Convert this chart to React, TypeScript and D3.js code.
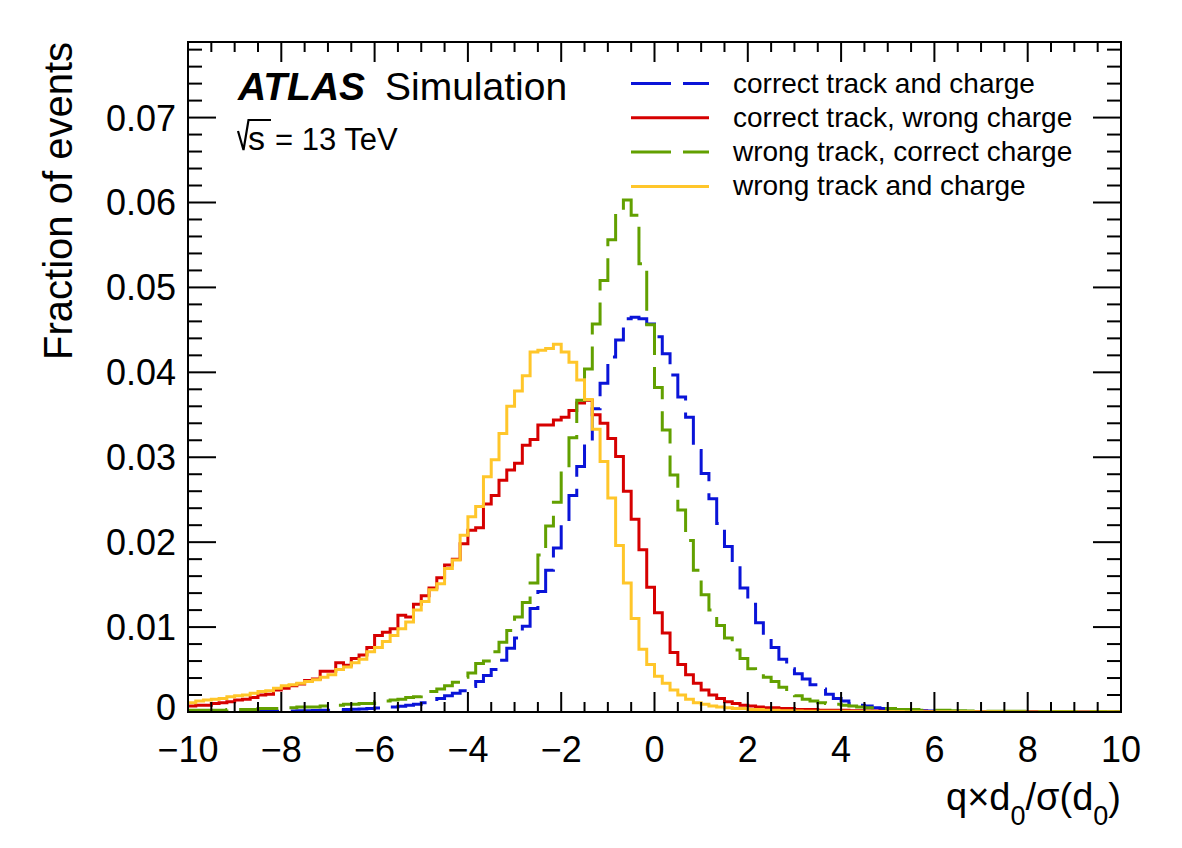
import React from "react";
import * as d3 from "d3";

// histogram binning: 120 bins of width 1/6 between -10 and 10
const binLow = -10;
const binHigh = 10;

const correctTrackAndCharge = [
  0.00003, 0.00003, 0.00004, 0.00003, 0.00005, 0.00005, 0.00006, 0.00005, 0.00007, 0.00008,
  0.00009, 0.0001, 0.00011, 0.00013, 0.00014, 0.00016, 0.00017, 0.0002, 0.00022, 0.00025,
  0.0003, 0.00032, 0.00036, 0.0004, 0.00046, 0.0005, 0.0006, 0.00068, 0.0008, 0.0009,
  0.0011, 0.0013, 0.0016, 0.0019, 0.0022, 0.0025, 0.003, 0.0036, 0.0043, 0.005,
  0.0061, 0.0075, 0.0087, 0.0101, 0.0122, 0.0142, 0.0167, 0.0193, 0.0223, 0.0255,
  0.0289, 0.0318, 0.0357, 0.0387, 0.0418, 0.0438, 0.0463, 0.0465, 0.0463, 0.0457,
  0.0442, 0.0422, 0.0397, 0.0371, 0.0347, 0.0308, 0.0281, 0.0251, 0.0222, 0.0195,
  0.0173, 0.0146, 0.0127, 0.0105, 0.0087, 0.0076, 0.0062, 0.0051, 0.0045, 0.0039,
  0.0032, 0.0027, 0.0021, 0.0016, 0.0013, 0.001, 0.0008, 0.0007, 0.0005, 0.0004,
  0.0003, 0.0003, 0.0002, 0.0002, 0.00015, 0.00012, 0.0001, 0.00009, 0.00008, 0.00007,
  0.00006, 0.00005, 0.00005, 0.00004, 0.00004, 0.00003, 0.00003, 0.00003, 0.00002, 0.00002,
  0.00002, 0.00002, 0.00001, 0.00001, 0.00001, 0.00001, 0.00001, 0.00001, 0.00001, 0.00001,
];

const correctTrackWrongCharge = [
  0.0007, 0.0008, 0.0008, 0.001, 0.0011, 0.0012, 0.0014, 0.0015, 0.0017, 0.002,
  0.0021, 0.0026, 0.0028, 0.0031, 0.0033, 0.0037, 0.0039, 0.0048, 0.0048, 0.0058,
  0.0055, 0.0063, 0.0067, 0.0076, 0.009, 0.0094, 0.0098, 0.0114, 0.0112, 0.0127,
  0.0137, 0.0146, 0.0158, 0.0173, 0.018, 0.0198, 0.0214, 0.0217, 0.0245, 0.0255,
  0.0273, 0.0285, 0.0293, 0.0314, 0.0321, 0.0338, 0.0338, 0.0344, 0.0347, 0.0355,
  0.0364, 0.0367, 0.035, 0.034, 0.0322, 0.0301, 0.026, 0.0227, 0.0191, 0.0147,
  0.0117, 0.0093, 0.007, 0.0056, 0.0044, 0.0034, 0.0026, 0.002, 0.0016, 0.0012,
  0.001, 0.0008, 0.0007, 0.0006, 0.0005, 0.0005, 0.0004, 0.0004, 0.0003, 0.0003,
  0.0003, 0.0002, 0.0002, 0.0002, 0.0002, 0.00015, 0.00015, 0.00012, 0.00012, 0.0001,
  0.0001, 0.0001, 0.00009, 0.00008, 0.00008, 0.00007, 0.00007, 0.00006, 0.00006, 0.00005,
  0.00005, 0.00005, 0.00004, 0.00004, 0.00004, 0.00003, 0.00003, 0.00003, 0.00003, 0.00002,
  0.00002, 0.00002, 0.00002, 0.00002, 0.00001, 0.00001, 0.00001, 0.00001, 0.00001, 0.00001,
];

const wrongTrackCorrectCharge = [
  0.0002, 0.0002, 0.0002, 0.0002, 0.0002, 0.0003, 0.0003, 0.0003, 0.0003, 0.0004,
  0.0004, 0.0004, 0.0005, 0.0005, 0.0006, 0.0006, 0.0006, 0.0007, 0.0007, 0.0008,
  0.0009, 0.0009, 0.001, 0.001, 0.0012, 0.0013, 0.0014, 0.0015, 0.0017, 0.0018,
  0.002, 0.0024, 0.0027, 0.0031, 0.0035, 0.0041, 0.0046, 0.0057, 0.006, 0.0071,
  0.0082, 0.0096, 0.0112, 0.0129, 0.0152, 0.0185, 0.0219, 0.0247, 0.0285, 0.0323,
  0.0367, 0.0404, 0.0457, 0.0508, 0.0556, 0.0587, 0.0603, 0.0585, 0.0528, 0.0456,
  0.0382, 0.0332, 0.0279, 0.0238, 0.0202, 0.0167, 0.0138, 0.012, 0.0102, 0.0087,
  0.0073, 0.0063, 0.0051, 0.0045, 0.0041, 0.0036, 0.0029, 0.0024, 0.0019, 0.0015,
  0.0013, 0.0011, 0.001, 0.0009, 0.0008, 0.0007, 0.0006, 0.0005, 0.0005, 0.0004,
  0.0004, 0.0003, 0.0003, 0.0003, 0.0002, 0.0002, 0.0002, 0.0002, 0.00015, 0.00015,
  0.00012, 0.00012, 0.0001, 0.0001, 0.0001, 0.00009, 0.00009, 0.00008, 0.00008, 0.00007,
  0.00007, 0.00006, 0.00006, 0.00006, 0.00005, 0.00005, 0.00005, 0.00005, 0.00004, 0.00004,
];

const wrongTrackAndCharge = [
  0.0011, 0.0013, 0.0014, 0.0015, 0.0016, 0.0018, 0.0019, 0.002, 0.0022, 0.0024,
  0.0025, 0.0028, 0.0031, 0.0032, 0.0034, 0.0036, 0.0038, 0.0041, 0.0044, 0.005,
  0.0053, 0.0058, 0.0062, 0.0071, 0.0076, 0.0083, 0.009, 0.0098, 0.0106, 0.012,
  0.013, 0.0144, 0.0151, 0.0169, 0.0179, 0.0208, 0.023, 0.0242, 0.0277, 0.0297,
  0.0328, 0.036, 0.0378, 0.0396, 0.0424, 0.0426, 0.0428, 0.0433, 0.0424, 0.0412,
  0.0391, 0.0368, 0.0333, 0.0295, 0.0252, 0.0196, 0.0152, 0.011, 0.0074, 0.0056,
  0.0042, 0.0034, 0.0026, 0.002, 0.0015, 0.0011, 0.0009, 0.0007, 0.0006, 0.0005,
  0.0004, 0.0004, 0.0003, 0.0003, 0.0002, 0.0002, 0.00015, 0.00015, 0.00012, 0.0001,
  0.0001, 0.0001, 0.00009, 0.00008, 0.00008, 0.00007, 0.00007, 0.00006, 0.00006, 0.00005,
  0.00005, 0.00005, 0.00004, 0.00004, 0.00004, 0.00003, 0.00003, 0.00003, 0.00003, 0.00002,
  0.00002, 0.00002, 0.00002, 0.00002, 0.00002, 0.00001, 0.00001, 0.00001, 0.00001, 0.00001,
  0.00001, 0.00001, 0.00001, 0.00001, 0.00001, 0.00001, 0.00001, 0.00001, 0.00001, 0.00001,
];

const seriesLabels = [
  "correct track and charge",
  "correct track, wrong charge",
  "wrong track, correct charge",
  "wrong track and charge",
];

const xTickValues = [-10, -8, -6, -4, -2, 0, 2, 4, 6, 8, 10];
const xTickLabels = ["\u221210", "\u22128", "\u22126", "\u22124", "\u22122", "0", "2", "4", "6", "8", "10"];
const yTickValues = [0, 0.01, 0.02, 0.03, 0.04, 0.05, 0.06, 0.07];
const yTickLabels = ["0", "0.01", "0.02", "0.03", "0.04", "0.05", "0.06", "0.07"];

const series = [
  { values: correctTrackAndCharge, color: "#0a14d8", dash: "40 12" },
  { values: correctTrackWrongCharge, color: "#d60000", dash: null },
  { values: wrongTrackCorrectCharge, color: "#62a000", dash: "40 12" },
  { values: wrongTrackAndCharge, color: "#ffc62a", dash: null },
];

const width = 1182;
const height = 848;
const frame = { left: 188, right: 1121, top: 42, bottom: 712 };
const FONT = "'Liberation Sans', Arial, Helvetica, sans-serif";

const Txt = ({ x, y, size, anchor = "start", rotate = 0, weight = "normal", italic = false, children }: any) => (
  <text
    transform={`translate(${x},${y})${rotate ? ` rotate(${rotate})` : ""}`}
    fontSize={size}
    fontFamily={FONT}
    textAnchor={anchor}
    fontWeight={weight}
    fontStyle={italic ? "italic" : "normal"}
    fill="#000"
  >
    {children}
  </text>
);

export default function App() {
  const x = d3.scaleLinear().domain([binLow, binHigh]).range([frame.left, frame.right]);
  const y = d3.scaleLinear().domain([0, 0.0789]).range([frame.bottom, frame.top]);

  const stepLine = d3
    .line<[number, number]>()
    .x((d) => x(d[0]))
    .y((d) => y(d[1]));

  const histPath = (values: number[]) => {
    const w = (binHigh - binLow) / values.length;
    const pts: [number, number][] = values.flatMap((v, i) => [
      [binLow + i * w, v] as [number, number],
      [binLow + (i + 1) * w, v] as [number, number],
    ]);
    return stepLine(pts) as string;
  };

  const xMinor = d3.range(-10, 10.001, 0.5).filter((v) => Math.abs(v % 2) > 1e-6);
  const yMinor = d3.range(0, 0.0785, 0.002).filter((v) => Math.abs(Math.round(v * 100) - v * 100) > 1e-6);

  const legendY = (i: number) => 83.5 + i * 34.3;

  return (
    <svg width={width} height={height} style={{ position: "absolute", left: 0, top: 0, background: "#fff" }}>
      <rect width={width} height={height} fill="#fff" />
      <defs>
        <clipPath id="plot-area">
          <rect x={frame.left} y={frame.top} width={frame.right - frame.left} height={frame.bottom - frame.top} />
        </clipPath>
      </defs>

      <g clipPath="url(#plot-area)">
        {series.map((s, i) => (
          <path
            key={i}
            d={histPath(s.values)}
            fill="none"
            stroke={s.color}
            strokeWidth={3}
            strokeDasharray={s.dash ?? undefined}
            strokeLinejoin="miter"
          />
        ))}
      </g>

      {/* frame and ticks on all four sides */}
      <rect
        x={frame.left}
        y={frame.top}
        width={frame.right - frame.left}
        height={frame.bottom - frame.top}
        fill="none"
        stroke="#000"
        strokeWidth={2}
      />
      <g stroke="#000" strokeWidth={2}>
        {xTickValues.map((v) => (
          <g key={"xt" + v}>
            <line x1={x(v)} x2={x(v)} y1={frame.bottom} y2={frame.bottom - 20} />
            <line x1={x(v)} x2={x(v)} y1={frame.top} y2={frame.top + 20} />
          </g>
        ))}
        {xMinor.map((v) => (
          <g key={"xm" + v}>
            <line x1={x(v)} x2={x(v)} y1={frame.bottom} y2={frame.bottom - 10} />
            <line x1={x(v)} x2={x(v)} y1={frame.top} y2={frame.top + 10} />
          </g>
        ))}
        {yTickValues.map((v) => (
          <g key={"yt" + v}>
            <line x1={frame.left} x2={frame.left + 28} y1={y(v)} y2={y(v)} />
            <line x1={frame.right} x2={frame.right - 28} y1={y(v)} y2={y(v)} />
          </g>
        ))}
        {yMinor.map((v) => (
          <g key={"ym" + v}>
            <line x1={frame.left} x2={frame.left + 14} y1={y(v)} y2={y(v)} />
            <line x1={frame.right} x2={frame.right - 14} y1={y(v)} y2={y(v)} />
          </g>
        ))}
      </g>

      {/* tick labels; the zero label sits a little higher to clear the x labels */}
      {xTickValues.map((v, i) => (
        <Txt key={"xl" + v} x={x(v)} y={762} size={36} anchor="middle">
          {xTickLabels[i]}
        </Txt>
      ))}
      {yTickValues.map((v, i) => (
        <Txt key={"yl" + v} x={176} y={y(v) + (v === 0 ? 8 : 13)} size={36} anchor="end">
          {yTickLabels[i]}
        </Txt>
      ))}

      {/* axis titles */}
      <Txt x={72} y={frame.top} size={40} anchor="end" rotate={-90}>
        Fraction of events
      </Txt>
      <Txt x={frame.right} y={810} size={38} anchor="end">
        q×d
        <tspan fontSize={27} dy={15}>0</tspan>
        <tspan dy={-15}>/σ(d</tspan>
        <tspan fontSize={27} dy={15}>0</tspan>
        <tspan dy={-15}>)</tspan>
      </Txt>

      {/* experiment label */}
      <Txt x={238} y={100} size={39} weight="bold" italic>
        ATLAS
      </Txt>
      <Txt x={385} y={100} size={39}>
        Simulation
      </Txt>
      <path d="M238,131 L243.5,150 L248.5,120 L271,120" fill="none" stroke="#000" strokeWidth={2.2} />
      <Txt x={248} y={150} size={34}>
        s
      </Txt>
      <Txt x={275} y={150} size={31}>
        = 13 TeV
      </Txt>

      {/* legend */}
      {series.map((s, i) => (
        <g key={"lg" + i}>
          <line
            x1={631}
            x2={709}
            y1={legendY(i)}
            y2={legendY(i)}
            stroke={s.color}
            strokeWidth={3}
            strokeDasharray={s.dash ?? undefined}
          />
          <Txt x={733} y={legendY(i) + 9} size={28}>
            {seriesLabels[i]}
          </Txt>
        </g>
      ))}
    </svg>
  );
}
